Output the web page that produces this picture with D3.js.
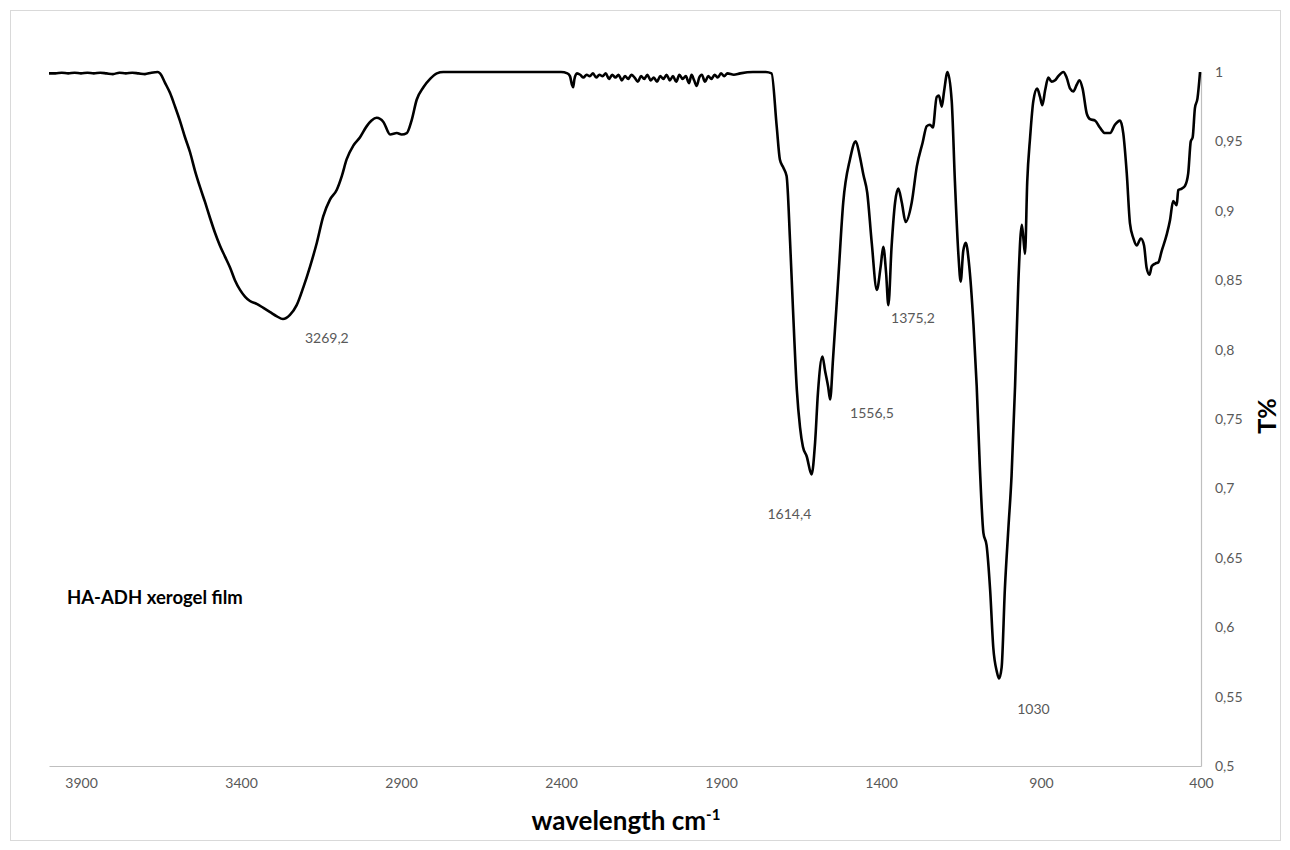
<!DOCTYPE html>
<html>
<head>
<meta charset="utf-8">
<script src="https://cdn.jsdelivr.net/npm/d3@7"></script>
<style>
  html, body { margin: 0; padding: 0; background: #fff; }
  svg { display: block; }
</style>
</head>
<body>
<svg id="chart" width="1290" height="850"></svg>
<script>
// ---------- data ----------
const wavenumber = [
  4000,3980,3960,3940,3920,3900,3880,3860,3840,3820,3800,3780,3760,3740,3720,3700,3680,3660,
  3653,3637,3622,3606,3591,3575,3559,3544,3528,3512,3497,3481,3466,3450,3434,3419,3403,3387,
  3372,3351,3330,3309,3288,3269,3247,3226,3205,3184,3163,3143,3122,3101,3085,3070,3049,3028,
  3007,2992,2976,2955,2934,2913,2898,2882,2867,2851,2830,2809,2788,2768,2600,2400,
  2380,2372,2366,2362,2358,2350,2340,2330,2320,2310,2300,2290,2280,2270,2260,2250,2240,2230,
  2220,2210,2200,2190,2180,2170,2160,2150,2140,2130,2120,2110,2100,2090,2080,2070,2060,2050,
  2040,2030,2020,2010,2000,1992,1984,1976,1968,1960,1950,1940,1930,1920,1910,1900,1890,1880,
  1860,1840,1800,1760,1742,
  1726,1716,1705,1695,1684,1675,1663,1653,1644,1632,1617,1606,1597,1583,1575,1565,1559,1550,
  1533,1518,1497,1479,1466,1455,1443,1429,1413,1401,1393,1384,1377,1367,1356,1346,1335,1323,
  1304,1288,1270,1257,1247,1238,1226,1219,1210,1203,1192,1179,1169,1158,1151,1143,1135,1125,
  1111,1101,1091,1080,1070,1059,1049,1038,1031,1023,1013,1002,992,981,971,960,955,950,943,
  934,924,912,903,896,887,877,867,856,846,830,820,809,799,788,780,770,757,747,731,716,700,
  684,669,653,643,632,622,611,601,588,578,570,561,554,543,533,523,507,497,487,476,471,460,
  450,440,432,426,419,411,403
];
const transmittance = [
  0.999,0.999,0.9995,0.999,0.9995,0.999,0.9995,0.999,0.9995,0.999,0.9985,0.9995,0.999,0.9995,0.999,0.9985,0.9995,1.000,
  0.999,0.992,0.985,0.975,0.965,0.953,0.942,0.929,0.917,0.906,0.895,0.884,0.875,0.867,0.859,0.850,0.843,0.838,
  0.835,0.833,0.830,0.827,0.824,0.822,0.825,0.832,0.845,0.860,0.877,0.896,0.908,0.915,0.925,0.937,0.947,0.953,
  0.961,0.965,0.967,0.964,0.955,0.956,0.955,0.956,0.965,0.980,0.989,0.995,0.999,1.000,1.000,1.000,
  0.999,0.997,0.991,0.989,0.995,0.999,0.998,0.996,0.998,0.997,0.999,0.996,0.998,0.997,0.999,0.995,0.998,0.996,
  0.998,0.994,0.997,0.995,0.998,0.996,0.993,0.997,0.995,0.998,0.994,0.996,0.993,0.997,0.995,0.998,0.994,0.997,
  0.993,0.998,0.995,0.997,0.992,0.998,0.994,0.990,0.996,0.998,0.993,0.997,0.995,0.998,0.996,0.999,0.997,0.999,
  0.998,0.999,1.000,1.000,0.999,
  0.961,0.937,0.931,0.925,0.877,0.829,0.771,0.744,0.730,0.723,0.710,0.733,0.769,0.795,0.785,0.773,0.764,0.793,
  0.853,0.906,0.937,0.950,0.939,0.926,0.913,0.877,0.843,0.860,0.874,0.855,0.832,0.874,0.906,0.916,0.906,0.892,
  0.906,0.932,0.949,0.961,0.962,0.960,0.982,0.983,0.975,0.986,1.000,0.979,0.921,0.868,0.849,0.871,0.877,0.862,
  0.818,0.774,0.715,0.668,0.659,0.627,0.585,0.568,0.563,0.571,0.627,0.671,0.709,0.774,0.847,0.890,0.880,0.869,0.921,
  0.953,0.979,0.988,0.982,0.976,0.987,0.996,0.993,0.994,0.997,1.000,0.996,0.988,0.986,0.991,0.994,0.988,0.970,0.966,0.965,0.960,0.956,
  0.956,0.962,0.965,0.956,0.927,0.891,0.880,0.875,0.880,0.875,0.859,0.854,0.860,0.862,0.863,0.871,0.883,0.893,0.907,0.904,0.915,0.916,
  0.918,0.927,0.950,0.953,0.974,0.981,1.000
];
const xTickValues = [3900, 3400, 2900, 2400, 1900, 1400, 900, 400];
const yTickValues = [1, 0.95, 0.9, 0.85, 0.8, 0.75, 0.7, 0.65, 0.6, 0.55, 0.5];
const peakLabels = ["3269,2", "1614,4", "1556,5", "1375,2", "1030"];
const peakLabelWn = [3269.2, 1614.4, 1556.5, 1375.2, 1030];
const peakLabelT  = [0.8076, 0.6808, 0.7536, 0.8220, 0.5403];
const peakLabelDx = [44, -23, 41, 24, 34];
const sampleLabel = "HA-ADH xerogel film";

// ---------- layout ----------
const svg = d3.select("#chart");
const plotLeft = 49, plotRight = 1201, plotTop = 72, plotBottom = 766;
const FONT = "Lato, 'Open Sans', sans-serif";
const GRAY = "#595959";

svg.append("rect")
  .attr("x", 10.5).attr("y", 10.5).attr("width", 1270).attr("height", 830)
  .attr("fill", "#fff").attr("stroke", "#d9d9d9").attr("stroke-width", 1);

const x = d3.scaleLinear().domain([4000, 400]).range([plotLeft, plotRight]);
const y = d3.scaleLinear().domain([0.5, 1]).range([plotBottom, plotTop]);

// x axis
const xAxis = d3.axisBottom(x).tickValues(xTickValues).tickSize(0).tickPadding(12)
  .tickFormat(d3.format("d"));
const gx = svg.append("g").attr("transform", `translate(0,${plotBottom})`).call(xAxis);
gx.select(".domain").attr("stroke", "#bfbfbf").attr("stroke-width", 1.2);
gx.selectAll("text").attr("fill", GRAY).attr("font-family", FONT).attr("font-size", 14);

// y axis (right side)
const yFormat = d => String(d).replace(".", ",");
const yAxis = d3.axisRight(y).tickValues(yTickValues).tickSize(0).tickPadding(14)
  .tickFormat(yFormat);
const gy = svg.append("g").attr("transform", `translate(${plotRight},0)`).call(yAxis);
gy.select(".domain").attr("stroke", "#bfbfbf").attr("stroke-width", 1.2);
gy.selectAll("text").attr("fill", GRAY).attr("font-family", FONT).attr("font-size", 14);

// spectrum line
const pts = wavenumber.map((w, i) => [w, transmittance[i]]);
const line = d3.line().x(d => x(d[0])).y(d => y(d[1])).curve(d3.curveMonotoneX);
svg.append("path").datum(pts)
  .attr("d", line).attr("fill", "none").attr("stroke", "#000")
  .attr("stroke-width", 2.6).attr("stroke-linejoin", "round");

// peak labels
svg.append("g").selectAll("text").data(peakLabels).join("text")
  .attr("x", (d, i) => x(peakLabelWn[i]) + peakLabelDx[i])
  .attr("y", (d, i) => y(peakLabelT[i]))
  .attr("text-anchor", "middle").attr("dominant-baseline", "middle")
  .attr("fill", GRAY).attr("font-family", FONT).attr("font-size", 14)
  .text(d => d);

// sample label
svg.append("text")
  .attr("x", 67).attr("y", 599).attr("dominant-baseline", "middle")
  .attr("font-family", FONT).attr("font-weight", "bold").attr("font-size", 18.5)
  .attr("fill", "#000").text(sampleLabel);

// x axis title
const xt = svg.append("text")
  .attr("x", 626).attr("y", 830).attr("text-anchor", "middle")
  .attr("font-family", FONT).attr("font-weight", "bold").attr("font-size", 26)
  .attr("fill", "#000");
xt.append("tspan").text("wavelength cm");
xt.append("tspan").attr("font-size", 15).attr("dy", -10).text("-1");

// y axis title
svg.append("text")
  .attr("transform", "translate(1276,416) rotate(-90)")
  .attr("text-anchor", "middle")
  .attr("font-family", FONT).attr("font-weight", "bold").attr("font-size", 25)
  .attr("fill", "#000").text("T%");
</script>
</body>
</html>
